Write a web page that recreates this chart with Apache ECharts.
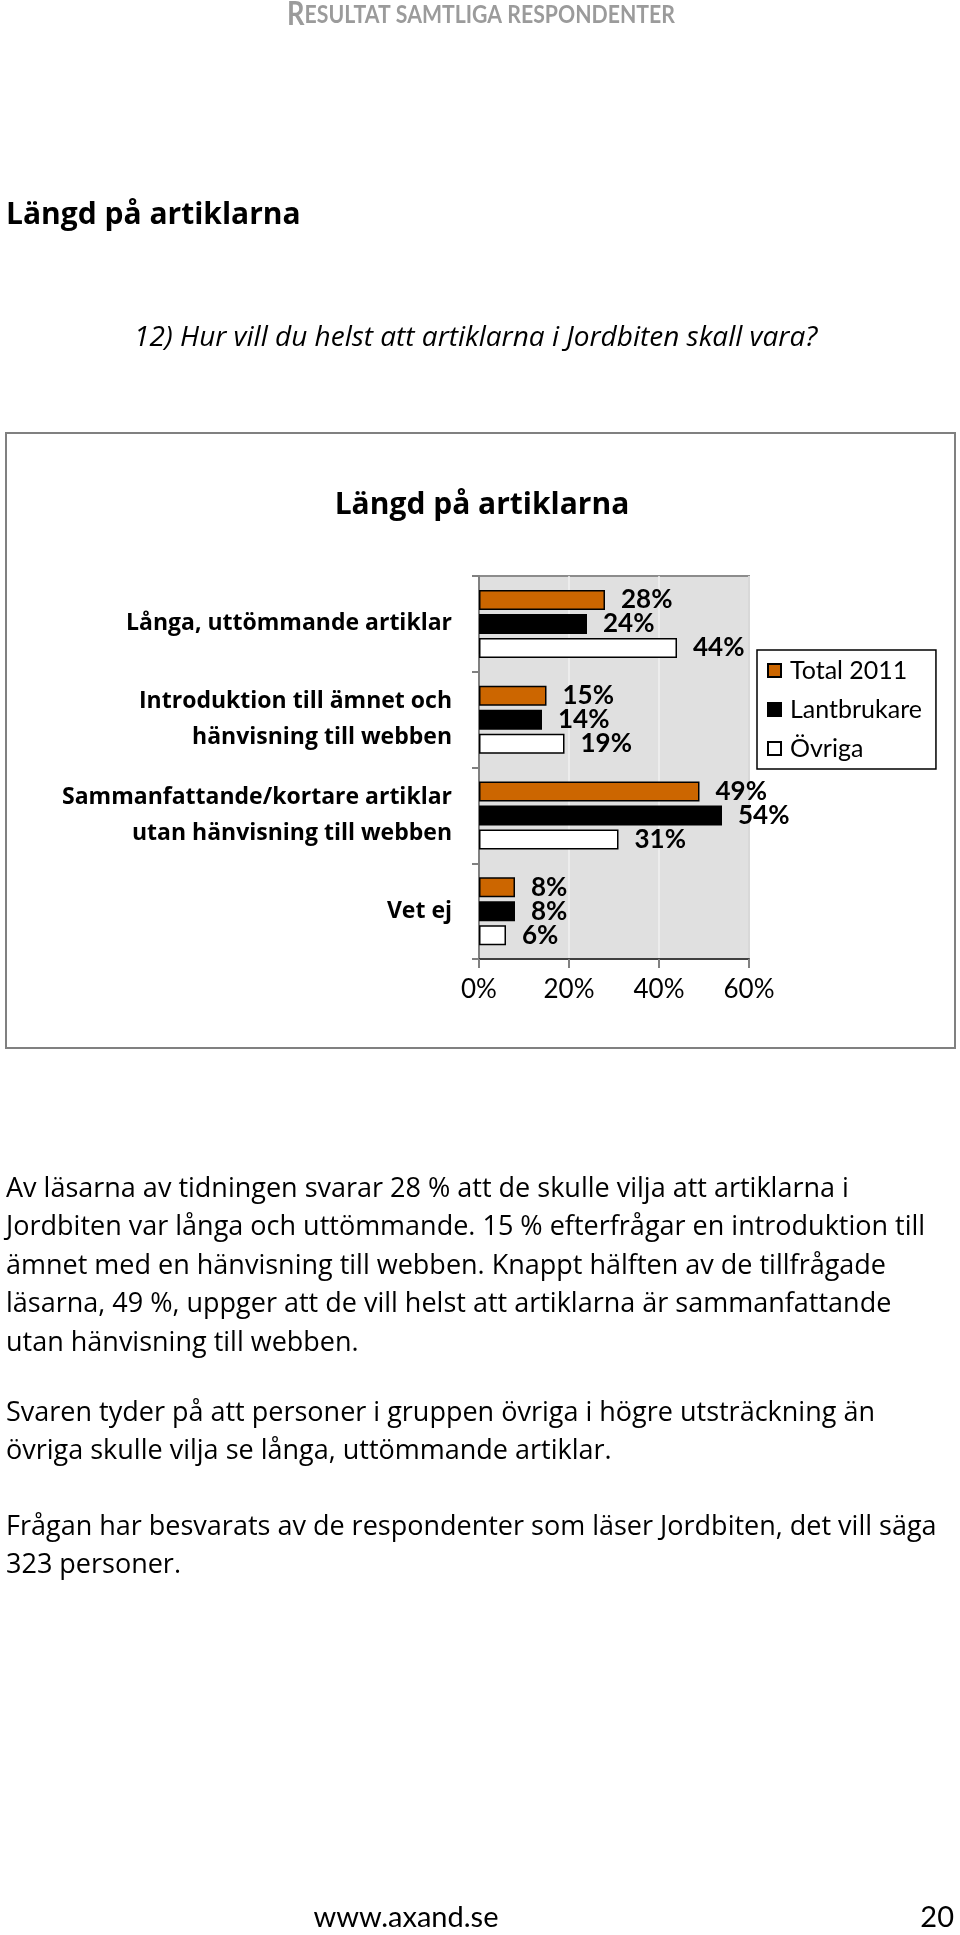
<!DOCTYPE html>
<html>
<head>
<meta charset="utf-8">
<script src="https://cdn.jsdelivr.net/npm/echarts@6/dist/echarts.min.js"></script>
<style>
html,body{margin:0;padding:0;background:#fff;}
#c{width:960px;height:1935px;}
</style>
</head>
<body>
<div id="c"></div>
<script>
const categories = ['Långa, uttömmande artiklar', 'Introduktion till ämnet och\nhänvisning till webben', 'Sammanfattande/kortare artiklar\nutan hänvisning till webben', 'Vet ej'];
const seriesNames = ['Total 2011', 'Lantbrukare', 'Övriga'];
const total2011 = [28, 15, 49, 8];
const lantbrukare = [24, 14, 54, 8];
const ovriga = [44, 19, 31, 6];
const xMin = 0, xMax = 60, xStep = 20;

const pageHeader = 'RESULTAT SAMTLIGA RESPONDENTER';
const heading = 'Längd på artiklarna';
const question = '12) Hur vill du helst att artiklarna i Jordbiten skall vara?';
const chartTitle = 'Längd på artiklarna';
const paragraphs = [
  ['Av läsarna av tidningen svarar 28 % att de skulle vilja att artiklarna i',
   'Jordbiten var långa och uttömmande. 15 % efterfrågar en introduktion till',
   'ämnet med en hänvisning till webben. Knappt hälften av de tillfrågade',
   'läsarna, 49 %, uppger att de vill helst att artiklarna är sammanfattande',
   'utan hänvisning till webben.'],
  ['Svaren tyder på att personer i gruppen övriga i högre utsträckning än',
   'övriga skulle vilja se långa, uttömmande artiklar.'],
  ['Frågan har besvarats av de respondenter som läser Jordbiten, det vill säga',
   '323 personer.']
];
const footerUrl = 'www.axand.se';
const pageNo = '20';

const F = 'Lato, "Open Sans", sans-serif';
const OS = '"Open Sans", "Noto Sans", sans-serif';
const colors = ['#cc6600', '#000000', '#ffffff'];
const values = [total2011, lantbrukare, ovriga];

const graphics = [];
// page header (small caps imitation)
graphics.push({
  type: 'text', x: 481, y: 15, scaleX: 0.85,
  style: {
    text: '{a|' + pageHeader[0] + '}{b|' + pageHeader.slice(1) + '}',
    x: 0, y: 0, align: 'center', verticalAlign: 'middle',
    rich: {
      a: {font: 'bold 32px ' + F, fill: '#9b9b9b'},
      b: {font: 'bold 25px ' + F, fill: '#9b9b9b'}
    }
  }
});
graphics.push({type: 'text', style: {text: heading, x: 6, y: 215, font: 'bold 30px ' + OS, fill: '#000', verticalAlign: 'middle'}});
graphics.push({type: 'text', style: {text: question, x: 134, y: 338, font: 'italic 28px ' + OS, fill: '#000', verticalAlign: 'middle'}});
// chart box
graphics.push({type: 'rect', shape: {x: 6, y: 433, width: 949, height: 615}, style: {fill: 'none', stroke: '#808080', lineWidth: 2}});
graphics.push({type: 'text', style: {text: chartTitle, x: 482, y: 505, font: 'bold 30px ' + OS, fill: '#000', align: 'center', verticalAlign: 'middle'}});
// paragraphs
const paraTops = [1189, 1413, 1527];
paragraphs.forEach((p, pi) => {
  p.forEach((line, li) => {
    graphics.push({type: 'text', style: {text: line, x: 6, y: paraTops[pi] + li * 38.5, font: '27px ' + OS, fill: '#000', verticalAlign: 'middle'}});
  });
});
graphics.push({type: 'text', style: {text: footerUrl, x: 406, y: 1918, font: '29px ' + F, fill: '#000', align: 'center', verticalAlign: 'middle'}});
graphics.push({type: 'text', style: {text: pageNo, x: 954, y: 1918, font: '29px ' + F, fill: '#000', align: 'right', verticalAlign: 'middle'}});

const series = seriesNames.map((name, i) => ({
  name: name,
  type: 'bar',
  data: values[i],
  barWidth: 20,
  barGap: '20%',
  itemStyle: {color: colors[i], borderColor: '#000', borderWidth: 1.5},
  label: {
    show: true, position: 'right', distance: 16,
    formatter: '{c}%', color: '#000',
    fontFamily: F, fontWeight: 'bold', fontSize: 26
  },
  z: 3
}));

const option = {
  animation: false,
  backgroundColor: '#ffffff',
  graphic: graphics,
  grid: {
    left: 479, top: 576, width: 270, height: 383,
    show: true, backgroundColor: '#e0e0e0', borderColor: '#8c8c8c', borderWidth: 2,
    containLabel: false
  },
  legend: {
    orient: 'vertical', left: 757, top: 650,
    data: seriesNames,
    icon: 'rect', itemWidth: 13, itemHeight: 13, itemGap: 14,
    padding: [8, 14, 8, 10],
    borderColor: '#000', borderWidth: 1.5,
    textStyle: {fontFamily: F, fontSize: 25, color: '#000', padding: [0, 0, 0, 4]}
  },
  xAxis: {
    type: 'value', min: xMin, max: xMax, interval: xStep,
    axisLine: {show: true, lineStyle: {color: '#404040', width: 2}},
    axisTick: {show: true, length: 9, lineStyle: {color: '#808080', width: 2}},
    axisLabel: {formatter: '{value}%', fontFamily: F, fontSize: 26, color: '#000', margin: 18},
    splitLine: {show: true, lineStyle: {color: '#f2f2f2', width: 1.5}}
  },
  yAxis: {
    type: 'category', inverse: true, data: categories,
    axisLine: {show: true, lineStyle: {color: '#808080', width: 2}},
    axisTick: {show: true, length: 7, lineStyle: {color: '#808080', width: 2}},
    axisLabel: {fontFamily: OS, fontWeight: 'bold', fontSize: 23, color: '#000', margin: 27, lineHeight: 36, align: 'right'}
  },
  series: series
};

const chart = echarts.init(document.getElementById('c'), null, {renderer: 'canvas'});
chart.setOption(option);
</script>
</body>
</html>
